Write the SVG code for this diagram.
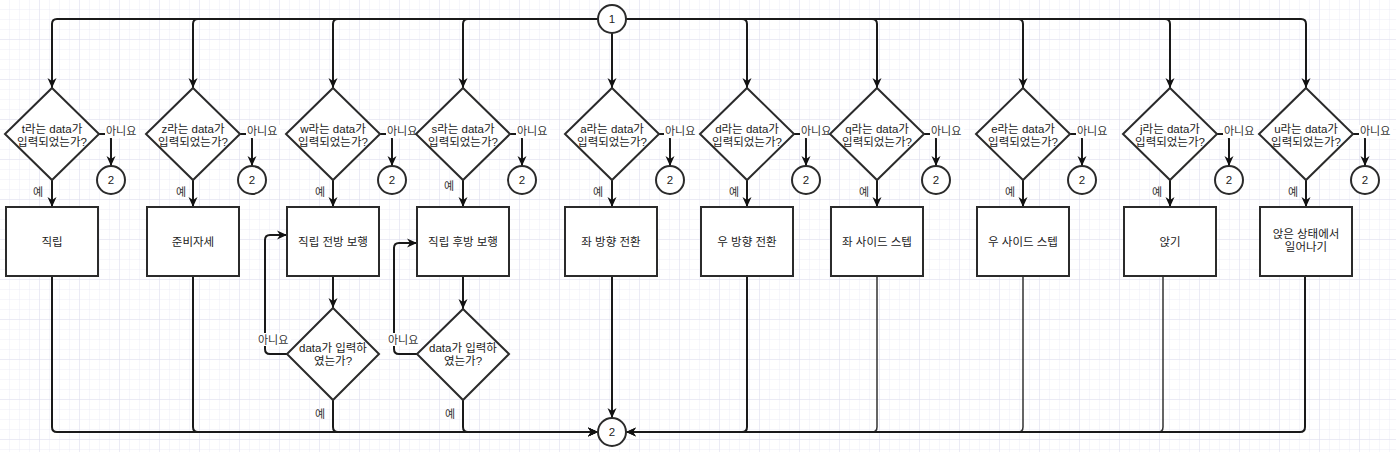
<svg xmlns="http://www.w3.org/2000/svg" width="1396" height="452" viewBox="0 0 1396 452">
<defs>
<pattern id="grid" width="10" height="10" patternUnits="userSpaceOnUse"><path d="M10,0 V10 M0,10 H10" stroke="#ececf6" stroke-width="1" fill="none"/></pattern>
<pattern id="grid2" width="40" height="40" patternUnits="userSpaceOnUse"><path d="M40,0 V40 M0,40 H40" stroke="#e0e0ee" stroke-width="1" fill="none"/></pattern>
<marker id="arr" viewBox="0 0 10 10" refX="10" refY="5" markerWidth="10" markerHeight="10" markerUnits="userSpaceOnUse" orient="auto"><path d="M0,0.5 L10,5 L0,9.5 L3,5 z" fill="#111"/></marker>
</defs>
<style>
.bg{fill:url(#grid)}
.bg2{fill:url(#grid2)}
.c{fill:none;stroke:#1a1a1a;stroke-width:2}
.ca{fill:none;stroke:#1a1a1a;stroke-width:2;marker-end:url(#arr)}
.thin{stroke-width:1.5;stroke:#333}
.shape{fill:#fff;stroke:#2b2b2b;stroke-width:2}
.t{font-family:"Liberation Sans","Noto Sans CJK KR",sans-serif;font-size:11.5px;fill:#222;text-anchor:middle}
.lbl{font-family:"Liberation Sans","Noto Sans CJK KR",sans-serif;font-size:11px;fill:#333}
.lb{fill:#fff}
</style>
<rect width="1396" height="452" fill="#fff"/>
<rect width="1396" height="452" class="bg"/>
<rect width="1396" height="452" class="bg2"/>

<g id="connectors">
<!-- top distribution -->
<path class="ca" d="M598,19 H57 Q52,19 52,24 V88"/>
<path class="ca" d="M598,19 H198 Q193,19 193,24 V88"/>
<path class="ca" d="M598,19 H338 Q333,19 333,24 V88"/>
<path class="ca" d="M598,19 H468 Q463,19 463,24 V88"/>
<path class="ca" d="M612,33 V88"/>
<path class="ca" d="M626,19 H742 Q747,19 747,24 V88"/>
<path class="ca" d="M626,19 H872 Q877,19 877,24 V88"/>
<path class="ca" d="M626,19 H1018 Q1023,19 1023,24 V88"/>
<path class="ca" d="M626,19 H1165 Q1170,19 1170,24 V88"/>
<path class="ca" d="M626,19 H1301 Q1306,19 1306,24 V88"/>
<!-- yes arrows -->
<path class="ca" d="M52,180 V207"/>
<path class="ca" d="M193,180 V207"/>
<path class="ca" d="M333,180 V207"/>
<path class="ca" d="M463,180 V207"/>
<path class="ca" d="M612,180 V207"/>
<path class="ca" d="M747,180 V207"/>
<path class="ca" d="M877,180 V207"/>
<path class="ca" d="M1023,180 V207"/>
<path class="ca" d="M1170,180 V207"/>
<path class="ca" d="M1306,180 V207"/>
<!-- no arrows -->
<path class="ca" d="M99,134 H106 Q111,134 111,139 V166"/>
<path class="ca" d="M240,134 H247 Q252,134 252,139 V166"/>
<path class="ca" d="M380,134 H387 Q392,134 392,139 V166"/>
<path class="ca" d="M510,134 H517 Q522,134 522,139 V166"/>
<path class="ca" d="M659,134 H665 Q670,134 670,139 V166"/>
<path class="ca" d="M794,134 H801 Q806,134 806,139 V166"/>
<path class="ca" d="M924,134 H931 Q936,134 936,139 V166"/>
<path class="ca" d="M1070,134 H1077 Q1082,134 1082,139 V166"/>
<path class="ca" d="M1217,134 H1224 Q1229,134 1229,139 V166"/>
<path class="ca" d="M1353,134 H1360 Q1365,134 1365,139 V166"/>
<!-- walk loops -->
<path class="ca" d="M333,276 V308"/>
<path class="ca" d="M463,276 V309"/>
<path class="ca" d="M287,354 H270 Q265,354 265,349 V240 Q265,235 270,235 H287"/>
<path class="ca" d="M417,354 H399 Q394,354 394,349 V248 Q394,243 399,243 H417"/>
<!-- bottom collection -->
<path class="ca" d="M52,276 V427 Q52,432 57,432 H598"/>
<path class="ca" d="M193,276 V427 Q193,432 198,432 H598"/>
<path class="ca" d="M333,400 V427 Q333,432 338,432 H598"/>
<path class="ca" d="M463,400 V427 Q463,432 468,432 H598"/>
<path class="ca" d="M612,276 V418"/>
<path class="ca" d="M747,276 V427 Q747,432 742,432 H626"/>
<path class="c thin" d="M877,276 V427 Q877,432 872,432 H626"/>
<path class="c thin" d="M1023,276 V427 Q1023,432 1018,432 H626"/>
<path class="c thin" d="M1163,276 V427 Q1163,432 1158,432 H626"/>
<path class="ca" d="M1305,276 V427 Q1305,432 1300,432 H626"/>
<!-- labels -->
<g>
<rect class="lb" x="105" y="125" width="34" height="13"/><text class="lbl" x="106" y="135">아니요</text>
<rect class="lb" x="246" y="125" width="34" height="13"/><text class="lbl" x="247" y="135">아니요</text>
<rect class="lb" x="386" y="125" width="34" height="13"/><text class="lbl" x="387" y="135">아니요</text>
<rect class="lb" x="516" y="125" width="34" height="13"/><text class="lbl" x="517" y="135">아니요</text>
<rect class="lb" x="664" y="125" width="34" height="13"/><text class="lbl" x="665" y="135">아니요</text>
<rect class="lb" x="800" y="125" width="34" height="13"/><text class="lbl" x="801" y="135">아니요</text>
<rect class="lb" x="930" y="125" width="34" height="13"/><text class="lbl" x="931" y="135">아니요</text>
<rect class="lb" x="1076" y="125" width="34" height="13"/><text class="lbl" x="1077" y="135">아니요</text>
<rect class="lb" x="1223" y="125" width="34" height="13"/><text class="lbl" x="1224" y="135">아니요</text>
<rect class="lb" x="1359" y="125" width="34" height="13"/><text class="lbl" x="1360" y="135">아니요</text>
<text class="lbl" x="33" y="196">예</text>
<text class="lbl" x="176" y="196">예</text>
<text class="lbl" x="315" y="196">예</text>
<text class="lbl" x="444" y="190">예</text>
<text class="lbl" x="593" y="196">예</text>
<text class="lbl" x="729" y="196">예</text>
<text class="lbl" x="859" y="196">예</text>
<text class="lbl" x="1005" y="196">예</text>
<text class="lbl" x="1152" y="196">예</text>
<text class="lbl" x="1288" y="196">예</text>
<rect class="lb" x="257" y="333" width="34" height="13"/><text class="lbl" x="258" y="344">아니요</text>
<rect class="lb" x="387" y="333" width="34" height="13"/><text class="lbl" x="388" y="344">아니요</text>
<text class="lbl" x="315" y="418">예</text>
<text class="lbl" x="445" y="418">예</text>
</g>
</g>

<g id="start"><circle class="shape" cx="612" cy="19" r="14"/><text class="t" x="612" y="23">1</text></g>
<g id="end"><circle class="shape" cx="612" cy="432" r="14"/><text class="t" x="612" y="436">2</text></g>

<g id="q-t"><path class="shape" d="M52,88 L99,134 L52,180 L5,134 Z"/><text class="t" x="52" y="133">t라는 data가</text><text class="t" x="52" y="146">입력되었는가?</text></g>
<g id="q-z"><path class="shape" d="M193,88 L240,134 L193,180 L146,134 Z"/><text class="t" x="193" y="133">z라는 data가</text><text class="t" x="193" y="146">입력되었는가?</text></g>
<g id="q-w"><path class="shape" d="M333,88 L380,134 L333,180 L286,134 Z"/><text class="t" x="333" y="133">w라는 data가</text><text class="t" x="333" y="146">입력되었는가?</text></g>
<g id="q-s"><path class="shape" d="M463,88 L510,134 L463,180 L416,134 Z"/><text class="t" x="463" y="133">s라는 data가</text><text class="t" x="463" y="146">입력되었는가?</text></g>
<g id="q-a"><path class="shape" d="M612,88 L659,134 L612,180 L565,134 Z"/><text class="t" x="612" y="133">a라는 data가</text><text class="t" x="612" y="146">입력되었는가?</text></g>
<g id="q-d"><path class="shape" d="M747,88 L794,134 L747,180 L700,134 Z"/><text class="t" x="747" y="133">d라는 data가</text><text class="t" x="747" y="146">입력되었는가?</text></g>
<g id="q-q"><path class="shape" d="M877,88 L924,134 L877,180 L830,134 Z"/><text class="t" x="877" y="133">q라는 data가</text><text class="t" x="877" y="146">입력되었는가?</text></g>
<g id="q-e"><path class="shape" d="M1023,88 L1070,134 L1023,180 L976,134 Z"/><text class="t" x="1023" y="133">e라는 data가</text><text class="t" x="1023" y="146">입력되었는가?</text></g>
<g id="q-j"><path class="shape" d="M1170,88 L1217,134 L1170,180 L1123,134 Z"/><text class="t" x="1170" y="133">j라는 data가</text><text class="t" x="1170" y="146">입력되었는가?</text></g>
<g id="q-u"><path class="shape" d="M1306,88 L1353,134 L1306,180 L1259,134 Z"/><text class="t" x="1306" y="133">u라는 data가</text><text class="t" x="1306" y="146">입력되었는가?</text></g>

<g id="no-t"><circle class="shape" cx="111" cy="180" r="14"/><text class="t" x="111" y="184">2</text></g>
<g id="no-z"><circle class="shape" cx="252" cy="180" r="14"/><text class="t" x="252" y="184">2</text></g>
<g id="no-w"><circle class="shape" cx="392" cy="180" r="14"/><text class="t" x="392" y="184">2</text></g>
<g id="no-s"><circle class="shape" cx="522" cy="180" r="14"/><text class="t" x="522" y="184">2</text></g>
<g id="no-a"><circle class="shape" cx="670" cy="180" r="14"/><text class="t" x="670" y="184">2</text></g>
<g id="no-d"><circle class="shape" cx="806" cy="180" r="14"/><text class="t" x="806" y="184">2</text></g>
<g id="no-q"><circle class="shape" cx="936" cy="180" r="14"/><text class="t" x="936" y="184">2</text></g>
<g id="no-e"><circle class="shape" cx="1082" cy="180" r="14"/><text class="t" x="1082" y="184">2</text></g>
<g id="no-j"><circle class="shape" cx="1229" cy="180" r="14"/><text class="t" x="1229" y="184">2</text></g>
<g id="no-u"><circle class="shape" cx="1365" cy="180" r="14"/><text class="t" x="1365" y="184">2</text></g>

<g id="act-t"><rect class="shape" x="6" y="207" width="92" height="69"/><text class="t" x="52" y="246">직립</text></g>
<g id="act-z"><rect class="shape" x="147" y="207" width="92" height="69"/><text class="t" x="193" y="246">준비자세</text></g>
<g id="act-w"><rect class="shape" x="287" y="207" width="92" height="69"/><text class="t" x="333" y="246">직립 전방 보행</text></g>
<g id="act-s"><rect class="shape" x="417" y="207" width="92" height="69"/><text class="t" x="463" y="246">직립 후방 보행</text></g>
<g id="act-a"><rect class="shape" x="565" y="207" width="92" height="69"/><text class="t" x="611" y="246">좌 방향 전환</text></g>
<g id="act-d"><rect class="shape" x="701" y="207" width="92" height="69"/><text class="t" x="747" y="246">우 방향 전환</text></g>
<g id="act-q"><rect class="shape" x="831" y="207" width="92" height="69"/><text class="t" x="877" y="246">좌 사이드 스텝</text></g>
<g id="act-e"><rect class="shape" x="977" y="207" width="92" height="69"/><text class="t" x="1023" y="246">우 사이드 스텝</text></g>
<g id="act-j"><rect class="shape" x="1124" y="207" width="92" height="69"/><text class="t" x="1170" y="246">앉기</text></g>
<g id="act-u"><rect class="shape" x="1260" y="207" width="92" height="69"/><text class="t" x="1306" y="238">앉은 상태에서</text><text class="t" x="1306" y="251">일어나기</text></g>

<g id="chk-w"><path class="shape" d="M333,308 L379,354 L333,400 L287,354 Z"/><text class="t" x="333" y="352">data가 입력하</text><text class="t" x="333" y="365">였는가?</text></g>
<g id="chk-s"><path class="shape" d="M463,309 L509,354 L463,400 L417,354 Z"/><text class="t" x="463" y="352">data가 입력하</text><text class="t" x="463" y="365">였는가?</text></g>
</svg>
